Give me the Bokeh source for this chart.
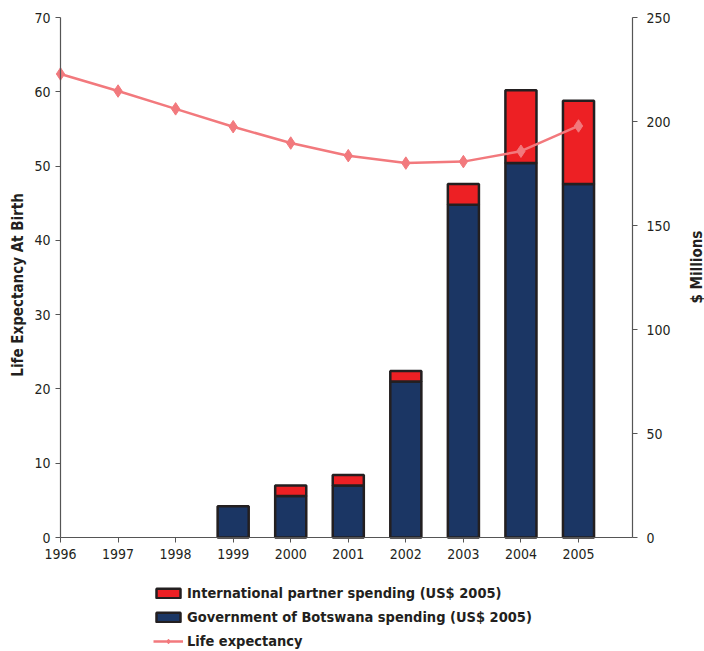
import math
from bokeh.plotting import figure
from bokeh.models import Range1d, LinearAxis, Legend, LegendItem, FixedTicker, ColumnDataSource, Label
from bokeh.embed import file_html
from bokeh.resources import INLINE

years = [1996, 1997, 1998, 1999, 2000, 2001, 2002, 2003, 2004, 2005]
life_expectancy = [62.4, 60.1, 57.7, 55.3, 53.1, 51.4, 50.4, 50.6, 52.0, 55.4]
gov_spending = [0, 0, 0, 15, 20, 25, 75, 160, 180, 170]
intl_spending = [0, 0, 0, 0, 5, 5, 5, 10, 35, 40]
left_ticks = [0, 10, 20, 30, 40, 50, 60, 70]
right_ticks = [0, 50, 100, 150, 200, 250]

FONT = "'DejaVu Sans Condensed', 'Liberation Sans Narrow', sans-serif"
TXT = "#231F20"

# page layout in pixels
W, H = 704, 651
X_FIRST, X_LAST, X_RIGHT_AXIS = 60, 578, 632   # first year, last year, right axis
Y_TOP, Y_ZERO = 17, 537                          # top tick, zero line

LMAX, RMAX = left_ticks[-1], right_ticks[-1]
kx = (X_LAST - X_FIRST) / (years[-1] - years[0])
x0 = years[0] - X_FIRST / kx
x1 = years[0] + (W - X_FIRST) / kx
x_right = years[0] + (X_RIGHT_AXIS - X_FIRST) / kx
span = Y_ZERO - Y_TOP

def yr(vmax):
    k = span / vmax
    return Range1d(-(H - Y_ZERO) / k, Y_ZERO / k)

p = figure(width=W, height=H, output_backend="svg", toolbar_location=None,
           x_range=Range1d(x0, x1), y_range=yr(LMAX),
           min_border_left=0, min_border_right=0, min_border_top=0, min_border_bottom=0)
p.outline_line_color = None
p.xgrid.visible = False
p.ygrid.visible = False
p.extra_y_ranges = {"money": yr(RMAX)}

gov_src = ColumnDataSource(dict(
    x=[y for y, g in zip(years, gov_spending) if g > 0],
    b=[0 for g in gov_spending if g > 0],
    t=[g for g in gov_spending if g > 0]))
int_src = ColumnDataSource(dict(
    x=[y for y, i in zip(years, intl_spending) if i > 0],
    b=[g for g, i in zip(gov_spending, intl_spending) if i > 0],
    t=[g + i for g, i in zip(gov_spending, intl_spending) if i > 0]))

r_gov = p.vbar(x="x", bottom="b", top="t", width=0.54, source=gov_src, y_range_name="money",
               fill_color="#1B3664", line_color=TXT, line_width=2.5)
r_int = p.vbar(x="x", bottom="b", top="t", width=0.54, source=int_src, y_range_name="money",
               fill_color="#ED2024", line_color=TXT, line_width=2.5)

LINE_C = "#F2797D"
r_line = p.line(years, life_expectancy, line_color=LINE_C, line_width=2.5)
r_pts = p.scatter(years, life_expectancy, marker="diamond", size=12.5,
                  fill_color=LINE_C, line_color=LINE_C)

def style_axis(ax):
    ax.major_label_text_font = FONT
    ax.major_label_text_font_size = "14px"
    ax.major_label_text_color = TXT
    ax.axis_line_color = "#555555"
    ax.axis_line_width = 1.2
    ax.major_tick_line_color = "#555555"
    ax.minor_tick_line_color = None
    ax.major_tick_out = 5
    ax.major_tick_in = 0

xa = p.xaxis[0]
xa.ticker = FixedTicker(ticks=years)
style_axis(xa)
xa.major_label_standoff = 6
xa.fixed_location = 0
xa.bounds = (years[0], x_right)

ya = p.yaxis[0]
ya.ticker = FixedTicker(ticks=left_ticks)
ya.bounds = (0, LMAX)
ya.fixed_location = years[0]
style_axis(ya)

right = LinearAxis(y_range_name="money", ticker=FixedTicker(ticks=right_ticks),
                   bounds=(0, RMAX), fixed_location=x_right)
style_axis(right)
right.major_label_standoff = 9
p.add_layout(right, "right")

title_kw = dict(angle=math.pi / 2, text_align="center", text_baseline="middle",
                text_font=FONT, text_font_size="15px", text_font_style="bold", text_color=TXT)
p.add_layout(Label(x=17, x_units="screen", y=34, text="Life Expectancy At Birth", **title_kw))
p.add_layout(Label(x=696, x_units="screen", y=130, y_range_name="money", text="$ Millions", **title_kw))

legend = Legend(items=[
    LegendItem(label="International partner spending (US$ 2005)", renderers=[r_int]),
    LegendItem(label="Government of Botswana spending (US$ 2005)", renderers=[r_gov]),
    LegendItem(label="Life expectancy", renderers=[r_line, r_pts]),
], location=(153, 0))
legend.label_text_font = FONT
legend.label_text_font_size = "14.5px"
legend.label_text_font_style = "bold"
legend.label_text_color = TXT
legend.glyph_width = 30
legend.glyph_height = 12
legend.label_height = 20
legend.spacing = 4
legend.padding = 0
legend.margin = 0
legend.label_standoff = 4
legend.border_line_color = None
legend.background_fill_alpha = 0
p.add_layout(legend, "center")

open("out.html", "w").write(file_html(p, INLINE))
